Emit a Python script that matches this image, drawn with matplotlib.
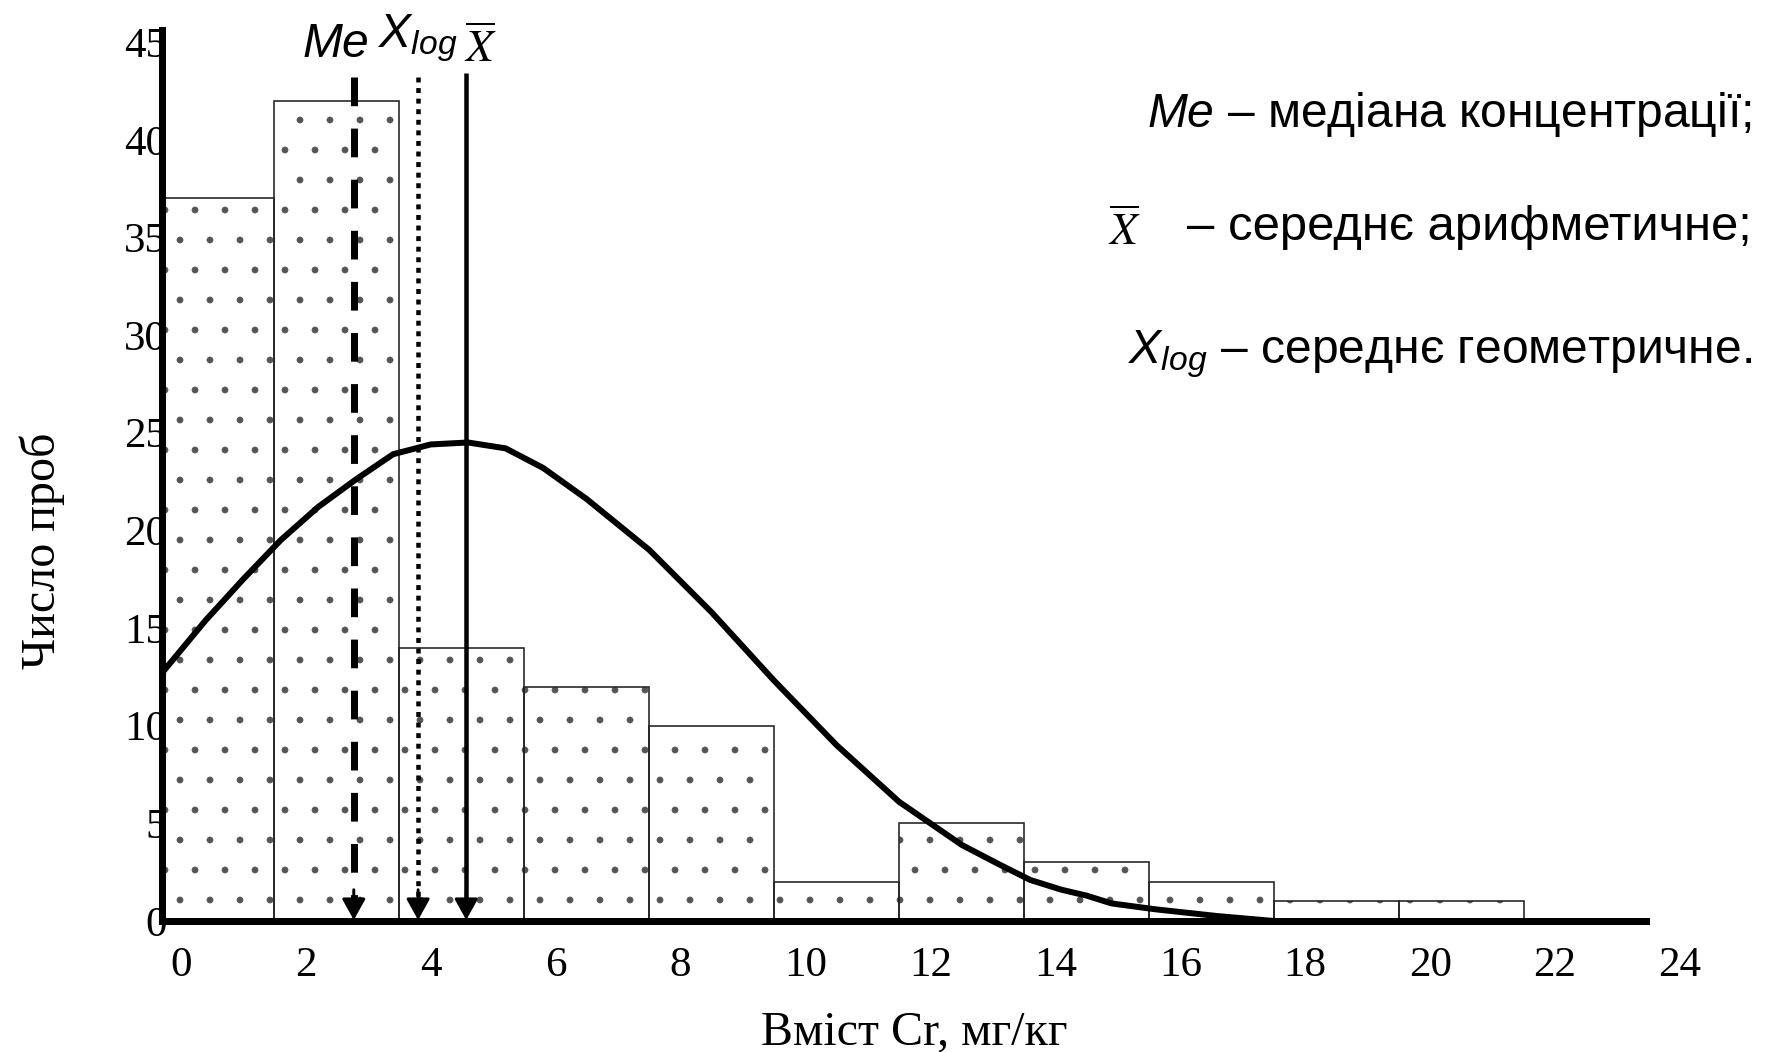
import matplotlib
matplotlib.use('Agg')
import matplotlib.pyplot as plt

# ---------------- data ----------------
bin_centers = [0.5, 2.5, 4.5, 6.5, 8.5, 10.5, 12.5, 14.5, 16.5, 18.5, 20.5]
counts = [37, 42, 14, 12, 10, 2, 5, 3, 2, 1, 1]
bin_width = 2.0

curve_x = [-0.3, 0.4, 1.0, 1.6, 2.2, 2.8, 3.4, 4.0, 4.6, 5.2, 5.8, 6.5, 7.5,
           8.5, 9.5, 10.5, 11.5, 12.5, 13.1, 13.6, 14.1, 14.5, 14.9, 15.6,
           16.6, 17.5]
curve_y = [12.7, 15.4, 17.5, 19.5, 21.2, 22.6, 23.9, 24.4, 24.5, 24.2, 23.2,
           21.6, 19.0, 15.8, 12.3, 9.0, 6.1, 3.9, 2.9, 2.1, 1.6, 1.3, 0.9,
           0.6, 0.25, 0.0]

me_val = 2.77      # median
xlog_val = 3.80    # geometric mean
xmean_val = 4.57   # arithmetic mean

x_ticks = list(range(0, 25, 2))
y_ticks = list(range(0, 50, 5))

# ---------------- style ----------------
DPI = 180
W, H = 1776, 1052


def px(v):
    return v * 72.0 / DPI


SERIF = 'Liberation Serif'
SANS = 'Liberation Sans'
plt.rcParams['mathtext.fontset'] = 'custom'
plt.rcParams['mathtext.it'] = 'Liberation Sans:italic'
plt.rcParams['mathtext.rm'] = 'Liberation Sans'
plt.rcParams['hatch.linewidth'] = px(0.8)

fig = plt.figure(figsize=(W / DPI, H / DPI), dpi=DPI)
ax_l, ax_r, ax_t, ax_b = 162, 1717.5, 30.4, 921
ax = fig.add_axes([ax_l / W, 1 - ax_b / H, (ax_r - ax_l) / W, (ax_b - ax_t) / H])
ax.set_xlim(-0.3, 24.6)
ax.set_ylim(0, 45.6)

# bars: dotted texture + thin outline
ax.bar(bin_centers, counts, width=bin_width, color='white', edgecolor='#555555',
       hatch='.', linewidth=0, zorder=1)
ax.bar(bin_centers, counts, width=bin_width, fill=False, edgecolor='#222222',
       linewidth=px(1.6), zorder=2)

# normal curve
ax.plot(curve_x, curve_y, color='black', lw=px(6), zorder=4,
        solid_joinstyle='round', solid_capstyle='butt')

# vertical marker lines
top = 43.2
ax.plot([me_val, me_val], [top, 0.6], color='black', lw=px(7),
        linestyle=(0, (4.1, 3.2)), zorder=5, dash_capstyle='butt')
ax.plot([xlog_val, xlog_val], [top, 0.6], color='black', lw=px(4.5),
        linestyle=(0, (1.1, 1.25)), zorder=5, dash_capstyle='butt')
ax.plot([xmean_val, xmean_val], [top + 0.2, 0.6], color='black', lw=px(4.5),
        zorder=5, solid_capstyle='butt')
for xv in (me_val, xlog_val, xmean_val):
    ax.annotate('', xy=(xv, 0.05), xytext=(xv, 1.6),
                arrowprops=dict(arrowstyle='-|>,head_length=0.9,head_width=0.5',
                                mutation_scale=px(20), color='black', lw=px(3),
                                shrinkA=0, shrinkB=0), zorder=6)

# labels over the lines
ax.text(me_val - 0.28, 44.24, 'Me', family=SANS, style='italic',
        fontsize=px(48), ha='center', va='baseline')
ax.text(xlog_val, 44.75, r'$X_{log}$', family=SANS, math_fontfamily='custom',
        fontsize=px(48), ha='center', va='baseline')
ax.text(xmean_val + 0.22, 43.98, r'$\overline{X}$', math_fontfamily='stix',
        fontsize=px(45), ha='center', va='baseline')

# axes
for s in ('top', 'right'):
    ax.spines[s].set_visible(False)
for s in ('left', 'bottom'):
    ax.spines[s].set_linewidth(px(7))
    ax.spines[s].set_color('black')
    ax.spines[s].set_capstyle('projecting')
ax.spines['bottom'].set_bounds(-0.3, 23.45)
ax.spines['left'].set_zorder(7)
ax.spines['bottom'].set_zorder(7)

ax.set_xticks(x_ticks)
ax.set_yticks(y_ticks)
ax.tick_params(axis='both', length=0)
ax.tick_params(axis='x', pad=px(26))
ax.tick_params(axis='y', pad=px(-5))
for lab in ax.get_xticklabels() + ax.get_yticklabels():
    lab.set_family(SERIF)
    lab.set_fontsize(px(43))

ax.set_xlabel('Вміст Cr, мг/кг', family=SERIF, fontsize=px(48))
ax.xaxis.set_label_coords((914 - ax_l) / (ax_r - ax_l), (ax_b - 1044) / (ax_b - ax_t))
ax.xaxis.label.set_va('baseline')
ax.set_ylabel('Число проб', family=SERIF, fontsize=px(48))
ax.yaxis.set_label_coords((42 - ax_l) / (ax_r - ax_l), (ax_b - 551) / (ax_b - ax_t))
ax.yaxis.label.set_va('center')

# legend text (upper right)
def fxy(x, y):
    return x / W, 1 - y / H

fig.text(*fxy(1752, 127), r'$Me$ – медіана концентрації;', family=SANS,
         math_fontfamily='custom', fontsize=px(48), ha='right', va='baseline')
fig.text(*fxy(1108, 245), r'$\overline{X}$', math_fontfamily='stix',
         fontsize=px(45), ha='left', va='baseline')
fig.text(*fxy(1752, 240), '– середнє арифметичне;', family=SANS,
         fontsize=px(49), ha='right', va='baseline')
fig.text(*fxy(1752, 363), r'$X_{log}$ – середнє геометричне.', family=SANS,
         math_fontfamily='custom', fontsize=px(48), ha='right', va='baseline')

fig.savefig('out.png', dpi=DPI)
